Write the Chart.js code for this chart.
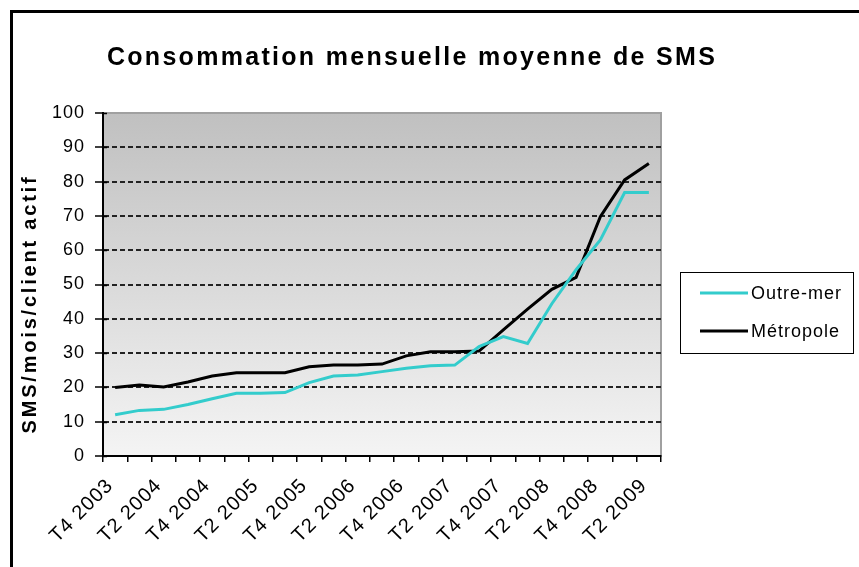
<!DOCTYPE html>
<html>
<head>
<meta charset="utf-8">
<title>Consommation mensuelle moyenne de SMS</title>
<script src="https://cdn.jsdelivr.net/npm/chart.js@4.4.1/dist/chart.umd.min.js"></script>
<style>
    html, body { margin: 0; padding: 0; background: #fff; }
    canvas { display: block; }
</style>
</head>
<body>
<canvas id="sms_chart" width="859" height="567"></canvas>
<script>
const chartTitle = 'Consommation mensuelle moyenne de SMS';
const yAxisTitle = 'SMS/mois/client actif';

// one entry per quarter, only every other one gets a label on the axis
const quarters = [
    'T4 2003', 'T1 2004', 'T2 2004', 'T3 2004', 'T4 2004',
    'T1 2005', 'T2 2005', 'T3 2005', 'T4 2005',
    'T1 2006', 'T2 2006', 'T3 2006', 'T4 2006',
    'T1 2007', 'T2 2007', 'T3 2007', 'T4 2007',
    'T1 2008', 'T2 2008', 'T3 2008', 'T4 2008',
    'T1 2009', 'T2 2009'
];

const outreMer = [
    12.0, 13.3, 13.6, 15.0, 16.7,
    18.3, 18.3, 18.5, 21.4,
    23.3, 23.6, 24.6, 25.6,
    26.3, 26.5, 31.9, 34.8,
    32.8, 44.4, 54.3, 63.0,
    76.8, 76.8
];

const metropole = [
    20.0, 20.7, 20.1, 21.6, 23.3,
    24.3, 24.3, 24.3, 26.0,
    26.5, 26.5, 26.8, 29.2,
    30.4, 30.4, 30.6, 36.8,
    42.8, 48.6, 52.1, 69.8,
    80.5, 85.3
];

const yMin = 0;
const yMax = 100;
const yStep = 10;

const fontFamily = '"Liberation Sans", Arial, sans-serif';

Chart.defaults.font.family = fontFamily;
Chart.defaults.font.size = 18;
Chart.defaults.color = '#000';


// background, frame, title, y title and the boxed legend
const excelLook = {
    id: 'excelLook',
    beforeUpdate(chart) {
        chart.ctx.letterSpacing = '1px';
    },
    beforeDraw(chart) {
        const ctx = chart.ctx;
        const a = chart.chartArea;
        ctx.save();
        ctx.fillStyle = '#fff';
        ctx.fillRect(0, 0, chart.width, chart.height);

        // outer frame, only top and left are visible
        ctx.fillStyle = '#000';
        ctx.fillRect(10, 10, chart.width - 10, 3);
        ctx.fillRect(10, 10, 3, chart.height - 10);

        const grad = ctx.createLinearGradient(0, a.top, 0, a.bottom);
        grad.addColorStop(0, '#c0c0c0');
        grad.addColorStop(1, '#f4f4f4');
        ctx.fillStyle = grad;
        ctx.fillRect(a.left, a.top, a.right - a.left, a.bottom - a.top);

        ctx.strokeStyle = '#a0a0a0';
        ctx.lineWidth = 2;
        ctx.strokeRect(a.left, a.top, a.right - a.left, a.bottom - a.top);
        ctx.restore();
        ctx.letterSpacing = '1px';
    },
    afterDraw(chart) {
        const ctx = chart.ctx;
        const yScale = chart.scales.y;
        ctx.save();
        ctx.fillStyle = '#000';

        // small inner part of the y tick marks (they cross the axis)
        ctx.strokeStyle = '#000';
        ctx.lineWidth = 1.5;
        yScale.ticks.forEach((t) => {
            const py = Math.round(yScale.getPixelForValue(t.value)) + 0.5;
            ctx.beginPath();
            ctx.moveTo(yScale.right, py);
            ctx.lineTo(yScale.right + 4, py);
            ctx.stroke();
        });

        // title
        ctx.font = 'bold 25px ' + fontFamily;
        ctx.letterSpacing = '2.3px';
        ctx.textAlign = 'center';
        ctx.textBaseline = 'alphabetic';
        ctx.fillText(chartTitle, 412, 65);

        // y axis title
        ctx.save();
        ctx.translate(30, 304);
        ctx.rotate(-Math.PI / 2);
        ctx.font = 'bold 20px ' + fontFamily;
        ctx.letterSpacing = '2.8px';
        ctx.textBaseline = 'middle';
        ctx.fillText(yAxisTitle, 0, 0);
        ctx.restore();

        // legend
        ctx.strokeStyle = '#000';
        ctx.lineWidth = 1;
        ctx.strokeRect(680.5, 272.5, 173, 81);
        ctx.font = '18px ' + fontFamily;
        ctx.letterSpacing = '1px';
        ctx.textAlign = 'left';
        ctx.textBaseline = 'middle';
        chart.data.datasets.forEach((ds, i) => {
            const y = 293 + 38 * i;
            ctx.beginPath();
            ctx.strokeStyle = ds.borderColor;
            ctx.lineWidth = ds.borderWidth;
            ctx.moveTo(700, y);
            ctx.lineTo(748, y);
            ctx.stroke();
            ctx.fillText(ds.label, 751, y + 1);
        });
        ctx.restore();
    }
};


new Chart(
    document.getElementById('sms_chart'),
    {
        type: 'line',
        plugins: [excelLook],
        data: {
            labels: quarters,
            datasets: [
                {
                    label: 'Outre-mer',
                    data: outreMer,
                    borderColor: '#33cccc',
                    borderWidth: 3,
                    pointRadius: 0,
                    tension: 0,
                },
                {
                    label: 'Métropole',
                    data: metropole,
                    borderColor: '#000000',
                    borderWidth: 3,
                    pointRadius: 0,
                    tension: 0,
                },
            ]
        },
        options: {
            responsive: false,
            animation: false,
            devicePixelRatio: 1,
            layout: {
                padding: { left: 40, right: 198, top: 113, bottom: 0 }
            },
            plugins: {
                legend: { display: false },
                title: { display: false },
                tooltip: { enabled: false },
            },
            scales: {
                x: {
                    type: 'category',
                    offset: true,
                    afterFit: (scale) => { scale.height = 111; },
                    grid: {
                        offset: true,
                        drawOnChartArea: false,
                        tickLength: 6,
                        color: '#000',
                        lineWidth: 1.5,
                    },
                    border: { color: '#000', width: 2 },
                    ticks: {
                        autoSkip: false,
                        minRotation: 45,
                        maxRotation: 45,
                        padding: 12,
                        labelOffset: -5,
                        font: { size: 20 },
                        callback: function(value, index) {
                            return index % 2 === 0 ? this.getLabelForValue(value) : '';
                        }
                    }
                },
                y: {
                    min: yMin,
                    max: yMax,
                    afterFit: (scale) => { scale.width = 63; },
                    grid: {
                        tickLength: 8,
                        lineWidth: 2,
                        color: (c) => (c.tick && (c.tick.value === yMin || c.tick.value === yMax)) ? 'rgba(0,0,0,0)' : '#222',
                        tickColor: '#000',
                        tickWidth: 1.5,
                        tickBorderDash: [],
                    },
                    border: { color: '#000', width: 2, dash: [5, 3] },
                    ticks: {
                        stepSize: yStep,
                        padding: 10,
                    }
                }
            }
        }
    }
);
</script>
</body>
</html>
